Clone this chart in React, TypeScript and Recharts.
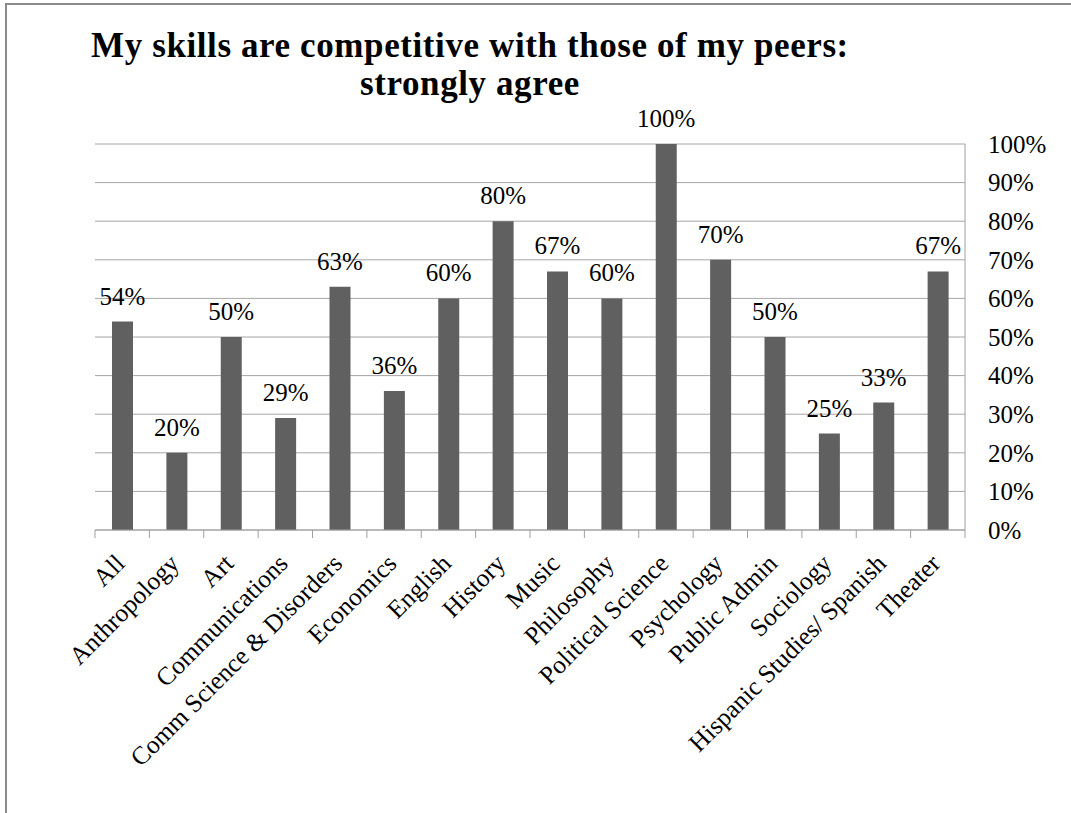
import { BarChart, Bar, XAxis, YAxis, CartesianGrid, LabelList } from 'recharts';

const categories = [
  'All',
  'Anthropology',
  'Art',
  'Communications',
  'Comm Science & Disorders',
  'Economics',
  'English',
  'History',
  'Music',
  'Philosophy',
  'Political Science',
  'Psychology',
  'Public Admin',
  'Sociology',
  'Hispanic Studies/ Spanish',
  'Theater',
];

const strongAgree = [54, 20, 50, 29, 63, 36, 60, 80, 67, 60, 100, 70, 50, 25, 33, 67];

const yTicks = [0, 10, 20, 30, 40, 50, 60, 70, 80, 90, 100];

const data = categories.map((name, i) => ({ name, value: strongAgree[i] }));

const W = 1071;
const H = 813;
const PLOT_LEFT = 95;
const PLOT_RIGHT = 965;
const PLOT_BOTTOM = 530;
const BAND = (PLOT_RIGHT - PLOT_LEFT) / categories.length;
const FONT = 'Liberation Serif';
const AXIS_GRAY = '#a0a0a0';

// category label + the boundary tick marks Excel draws between bars
const CategoryTick = (props: any) => {
  const { x, payload, index } = props;
  const last = index === categories.length - 1;
  return (
    <g>
      <line x1={x - BAND / 2} x2={x - BAND / 2} y1={PLOT_BOTTOM} y2={PLOT_BOTTOM + 8} stroke={AXIS_GRAY} />
      {last && (
        <line x1={x + BAND / 2} x2={x + BAND / 2} y1={PLOT_BOTTOM} y2={PLOT_BOTTOM + 8} stroke={AXIS_GRAY} />
      )}
      <text
        transform={`translate(${x + 4},${PLOT_BOTTOM + 35}) rotate(-45)`}
        textAnchor="end"
        fontSize={25.5}
        fontFamily={FONT}
        fill="#000"
      >
        {payload.value}
      </text>
    </g>
  );
};

const titleStyle = {
  position: 'absolute' as const,
  left: 0,
  width: 940,
  textAlign: 'center' as const,
  fontFamily: FONT,
  fontWeight: 'bold' as const,
  fontSize: 35,
  lineHeight: '38px',
  letterSpacing: '0.6px',
  color: '#000',
  whiteSpace: 'nowrap' as const,
};

export default function App() {
  return (
    <div style={{ position: 'absolute', left: 0, top: 0, width: W, height: H, background: '#fff' }}>
      {/* frame edges of the page */}
      <div
        style={{
          position: 'absolute',
          left: 5,
          top: 3,
          width: W - 5,
          height: H - 3,
          borderLeft: '2px solid #8a8a8a',
          borderTop: '2px solid #8a8a8a',
          boxSizing: 'border-box',
        }}
      />
      <div style={{ ...titleStyle, top: 27 }}>My skills are competitive with those of my peers:</div>
      <div style={{ ...titleStyle, top: 65 }}>strongly agree</div>
      <div style={{ position: 'absolute', left: 0, top: 0 }}>
        <BarChart width={W} height={H} data={data} margin={{ top: 144, right: 26, left: 95, bottom: 13 }}>
          <CartesianGrid vertical={false} stroke="#a6a6a6" />
          <XAxis
            dataKey="name"
            interval={0}
            height={270}
            tickLine={false}
            axisLine={{ stroke: AXIS_GRAY }}
            tick={<CategoryTick />}
          />
          <YAxis
            orientation="right"
            width={80}
            domain={[0, 100]}
            ticks={yTicks}
            tickFormatter={(v: number) => `${v}%`}
            tickLine={false}
            tickMargin={17}
            axisLine={{ stroke: AXIS_GRAY }}
            tick={{ fill: '#000', fontSize: 25, fontFamily: FONT }}
          />
          <Bar dataKey="value" fill="#606060" barSize={21} isAnimationActive={false}>
            <LabelList
              dataKey="value"
              position="top"
              offset={17}
              formatter={(v: any) => `${v}%`}
              style={{ fill: '#000', fontSize: 25, fontFamily: FONT }}
            />
          </Bar>
        </BarChart>
      </div>
    </div>
  );
}
